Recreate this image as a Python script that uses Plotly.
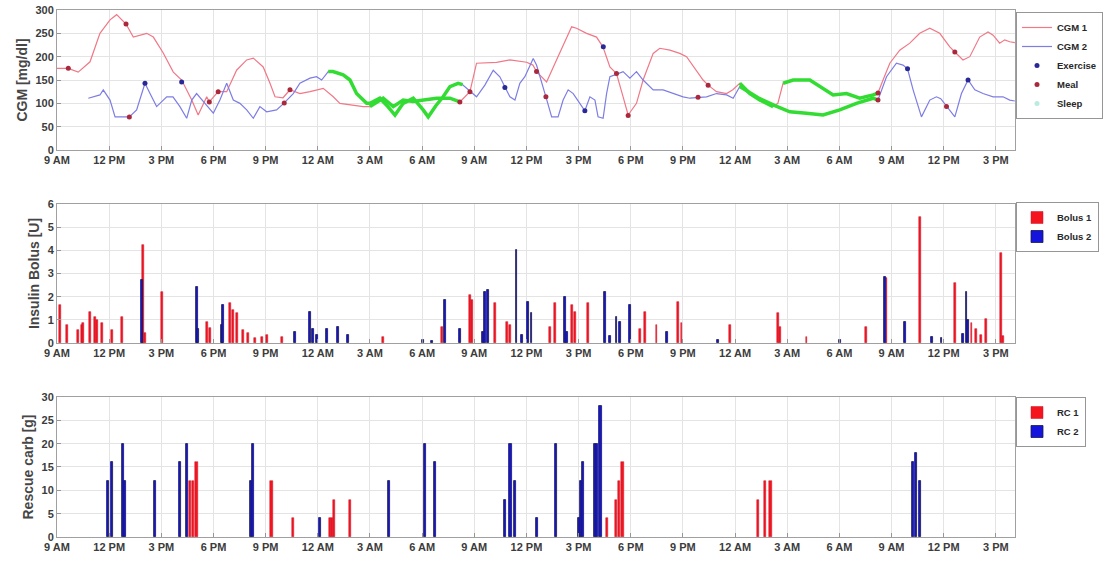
import plotly.graph_objects as go
import numpy as np

# ---------------- data (hours since 9 AM day 1) ----------------
tick_vals = [0, 3, 6, 9, 12, 15, 18, 21, 24, 27, 30, 33, 36, 39, 42, 45, 48, 51, 54]
tick_text = ["9 AM", "12 PM", "3 PM", "6 PM", "9 PM", "12 AM", "3 AM", "6 AM",
             "9 AM", "12 PM", "3 PM", "6 PM", "9 PM", "12 AM", "3 AM", "6 AM",
             "9 AM", "12 PM", "3 PM"]

cgm1_t = [0.00, 0.65, 1.22, 1.90, 2.47, 3.05, 3.43, 3.97, 4.39, 5.16, 5.54, 6.11, 6.69, 7.17,
          7.75, 8.12, 8.61, 8.76, 9.27, 9.76, 10.33, 10.91, 11.29, 11.86, 12.25, 12.54, 13.00,
          13.40, 13.97, 14.55, 15.31, 15.89, 16.27, 17.04, 17.61, 18.00, 18.76, 19.34, 19.91,
          20.47, 21.06, 21.83, 22.60, 23.17, 23.75, 24.13, 25.28, 26.05, 27.01, 27.37, 27.58,
          28.16, 28.73, 29.31, 29.60, 29.88, 30.46, 31.03, 31.40, 31.80, 32.18, 32.56, 32.85,
          33.33, 33.71, 34.29, 34.67, 35.25, 35.82, 36.21, 36.78, 37.16, 37.45, 37.93, 38.51,
          38.87, 39.27, 39.85, 40.42, 41.19, 41.46, 41.76, 42.34, 43.30, 43.87, 44.64, 45.41,
          46.17, 46.94, 47.22, 47.51, 47.90, 48.47, 49.05, 49.62, 50.20, 50.77, 51.35, 51.64,
          52.11, 52.50, 53.07, 53.55, 53.84, 54.22, 54.51, 54.80, 55.09]
cgm1_v = [175, 175, 167, 189, 250, 279, 290, 270, 242, 250, 242, 208, 167, 150,
          107, 75, 114, 103, 125, 125, 171, 193, 197, 178, 143, 114, 112,
          129, 121, 125, 132, 114, 100, 96, 93, 93, 111, 93, 107,
          104, 107, 111, 111, 103, 125, 186, 188, 193, 188, 182, 168,
          146, 193, 242, 264, 261, 250, 242, 221, 178, 164, 114, 75,
          100, 150, 207, 218, 214, 207, 200, 171, 150, 139, 125, 121,
          129, 143, 121, 107, 93, 100, 143, 150, 150, 136, 118, 121,
          111, 118, 122, 150, 186, 214, 229, 250, 261, 250, 221, 210,
          193, 200, 242, 253, 246, 229, 236, 232, 230]

cgm2_t = [1.80, 2.47, 2.66, 3.05, 3.34, 3.91, 4.16, 4.58, 5.06, 5.35, 5.73, 6.31, 6.67, 7.07,
          7.46, 7.75, 8.03, 8.51, 8.99, 9.37, 9.76, 10.14, 10.52, 10.91, 11.29, 11.67, 12.06,
          12.63, 13.07, 13.59, 13.97, 14.55, 14.93, 15.22, 15.60, 15.87, 16.46, 16.85, 17.23,
          17.81, 18.00, 18.57, 19.03, 19.44, 19.91, 20.49, 21.06, 21.35, 21.79, 22.21, 22.60,
          23.07, 23.33, 24.13, 24.61, 25.09, 25.47, 25.76, 26.05, 26.34, 26.62, 26.91, 27.08,
          27.39, 27.58, 27.87, 28.12, 28.45, 28.82, 29.11, 29.40, 29.69, 30.07, 30.36, 30.65,
          30.94, 31.12, 31.41, 31.61, 31.80, 32.09, 32.56, 32.95, 33.33, 33.71, 34.29, 34.86,
          35.44, 36.01, 36.40, 36.87, 37.36, 37.93, 38.51, 38.89, 39.27, 40.42, 41.29, 42.15,
          43.11, 44.06, 45.02, 45.98, 46.94, 47.22, 47.71, 48.28, 48.66, 48.92, 49.24, 49.72,
          50.20, 50.58, 50.83, 51.16, 51.64, 52.02, 52.40, 52.79, 53.26, 53.84, 54.41, 54.80, 55.09]
cgm2_v = [111, 118, 129, 107, 71, 71, 71, 86, 143, 121, 93, 114, 114, 93,
          68, 107, 121, 100, 79, 107, 143, 107, 100, 86, 68, 93, 82,
          86, 101, 121, 143, 154, 157, 150, 168, 168, 161, 150, 121,
          100, 100, 111, 93, 75, 100, 111, 86, 71, 95, 114, 136,
          143, 140, 114, 139, 171, 157, 134, 114, 107, 143, 157, 171,
          196, 182, 143, 114, 71, 71, 107, 129, 121, 100, 84, 114,
          107, 71, 68, 121, 157, 161, 168, 154, 168, 150, 129, 129,
          121, 114, 111, 113, 114, 121, 118, 111, 136, 110, 95, 82,
          79, 75, 86, 100, 111, 107, 157, 186, 182, 174, 129, 71,
          107, 114, 110, 93, 71, 121, 150, 129, 121, 114, 114, 107, 105]

sleep1_windows = [(17.9, 23.2), (39.0, 41.3), (41.7, 47.3)]
sleep2_windows = [(15.5, 23.4), (39.0, 47.3)]

exercise_t = [5.06, 7.17, 25.76, 30.36, 31.42, 48.92, 52.40]
exercise_v = [143, 146, 134, 84, 221, 174, 150]
meal_t = [0.65, 3.97, 4.16, 8.76, 9.27, 13.07, 13.40, 23.17, 23.75, 27.58, 28.12, 32.18,
          32.85, 36.87, 37.45, 47.22, 47.22, 51.16, 51.64]
meal_v = [175, 270, 71, 103, 125, 101, 129, 103, 125, 168, 114, 164, 74, 113, 139, 122, 107, 93, 210]

bolus1_t = [0.17, 0.56, 1.22, 1.42, 1.51, 1.90, 2.19, 2.28, 2.57, 3.15, 3.72, 4.96, 5.06, 6.02,
            8.61, 8.80, 9.95, 10.14, 10.33, 10.71, 11.00, 11.39, 11.79, 12.06, 12.92, 18.76,
            22.12, 23.75, 23.85, 25.19, 25.86, 26.05, 28.35, 28.64, 29.60, 29.79, 30.55, 33.52,
            33.81, 34.48, 35.73, 35.92, 38.70, 41.48, 41.58, 43.11, 46.52, 47.71, 49.62, 51.64,
            52.60, 52.88, 53.17, 53.45, 54.32, 54.42]
bolus1_v = [1.64, 0.78, 0.56, 0.78, 0.85, 1.35, 1.13, 0.99, 0.85, 0.56, 1.13, 4.23, 0.45, 2.21,
            0.92, 0.65, 1.71, 1.42, 1.28, 0.56, 0.42, 0.20, 0.27, 0.35, 0.27, 0.27,
            0.70, 2.07, 1.86, 1.71, 0.92, 0.80, 0.70, 1.71, 1.64, 1.35, 1.71, 0.60,
            1.35, 0.78, 1.78, 0.85, 0.78, 1.28, 0.70, 0.27, 0.70, 2.82, 5.45, 2.58,
            0.85, 0.63, 0.35, 1.06, 3.87, 0.30]
bolus2_t = [4.87, 8.03, 8.11, 9.47, 9.57, 13.69, 14.55, 14.74, 14.93, 15.51, 16.18, 16.75,
            21.06, 21.55, 22.31, 23.17, 24.51, 24.61, 24.80, 26.43, 26.72, 27.10, 27.29, 29.21,
            29.31, 31.51, 31.80, 32.18, 32.37, 32.95, 35.06, 38.03, 45.03, 47.61, 48.76, 50.30,
            50.87, 52.11, 52.31, 52.40]
bolus2_v = [2.72, 2.43, 0.60, 0.78, 1.64, 0.49, 1.35, 0.63, 0.35, 0.63, 0.70, 0.35,
            0.13, 0.10, 1.86, 0.63, 0.50, 2.21, 2.29, 4.01, 0.35, 1.78, 1.28, 2.00,
            0.50, 2.21, 0.30, 1.14, 0.92, 1.64, 0.49, 0.13, 0.13, 2.86, 0.92, 0.27,
            0.20, 0.40, 2.21, 0.99]

rc1_t = [7.65, 7.84, 8.03, 12.34, 13.59, 15.70, 15.80, 15.95, 16.85, 31.65, 32.15, 32.34,
         32.53, 40.33, 40.71, 41.04]
rc1_v = [12, 12, 16, 12, 4, 4, 4, 8, 8, 4, 8, 12, 16, 8, 12, 12]
rc2_t = [2.95, 3.15, 3.78, 3.91, 5.63, 7.07, 7.46, 11.14, 11.29, 15.12, 19.11, 21.16, 21.74,
         25.76, 26.09, 26.34, 27.62, 28.68, 30.03, 30.13, 30.27, 30.94, 31.07, 31.26, 49.24,
         49.39, 49.62]
rc2_v = [12, 16, 20, 12, 12, 16, 20, 12, 20, 4, 12, 20, 16, 8, 20, 12, 4, 20, 4, 12, 16,
         20, 20, 28, 16, 18, 12]

# ---------------- styling ----------------
FONT = "Liberation Sans"
RED_LINE = "rgb(240,120,135)"
BLUE_LINE = "rgb(125,125,228)"
GREEN = "rgb(50,220,50)"

fig = go.Figure()

fig.add_trace(go.Scatter(x=cgm1_t, y=cgm1_v, mode="lines", name="CGM 1",
                         line=dict(color=RED_LINE, width=1.2), xaxis="x", yaxis="y", legend="legend"))
fig.add_trace(go.Scatter(x=cgm2_t, y=cgm2_v, mode="lines", name="CGM 2",
                         line=dict(color=BLUE_LINE, width=1.2), xaxis="x", yaxis="y", legend="legend"))


def sleep_segments(ts, vs, windows):
    ts = np.asarray(ts)
    vs = np.asarray(vs)
    out = []
    for a, b in windows:
        m = (ts >= a) & (ts <= b)
        out.append((ts[m], vs[m]))
    return out


for ts, vs, wins in [(cgm1_t, cgm1_v, sleep1_windows), (cgm2_t, cgm2_v, sleep2_windows)]:
    for sx, sy in sleep_segments(ts, vs, wins):
        fig.add_trace(go.Scatter(x=sx, y=sy, mode="lines", showlegend=False,
                                 line=dict(color=GREEN, width=3.5), xaxis="x", yaxis="y",
                                 legend="legend", hoverinfo="skip"))

fig.add_trace(go.Scatter(x=exercise_t, y=exercise_v, mode="markers", name="Exercise",
                         marker=dict(color="rgb(40,40,150)", size=5), xaxis="x", yaxis="y", legend="legend"))
fig.add_trace(go.Scatter(x=meal_t, y=meal_v, mode="markers", name="Meal",
                         marker=dict(color="rgb(170,40,60)", size=5), xaxis="x", yaxis="y", legend="legend"))
fig.add_trace(go.Scatter(x=[None], y=[None], mode="markers", name="Sleep",
                         marker=dict(color="rgb(185,235,225)", size=5), xaxis="x", yaxis="y", legend="legend"))

fig.add_trace(go.Bar(x=bolus1_t, y=bolus1_v, name="Bolus 1", width=0.11,
                     marker=dict(color="rgb(245,20,30)", line=dict(color="rgb(200,20,40)", width=0.5)),
                     xaxis="x2", yaxis="y2", legend="legend2"))
fig.add_trace(go.Bar(x=bolus2_t, y=bolus2_v, name="Bolus 2", width=0.11,
                     marker=dict(color="rgb(20,20,220)", line=dict(color="rgb(25,25,80)", width=0.8)),
                     xaxis="x2", yaxis="y2", legend="legend2"))

fig.add_trace(go.Bar(x=rc1_t, y=rc1_v, name="RC 1", width=0.13,
                     marker=dict(color="rgb(245,20,30)", line=dict(color="rgb(200,20,40)", width=0.5)),
                     xaxis="x3", yaxis="y3", legend="legend3"))
fig.add_trace(go.Bar(x=rc2_t, y=rc2_v, name="RC 2", width=0.13,
                     marker=dict(color="rgb(20,20,220)", line=dict(color="rgb(25,25,80)", width=0.8)),
                     xaxis="x3", yaxis="y3", legend="legend3"))

tickfont = dict(family=FONT, size=11, color="rgb(60,60,60)", weight="bold")
titlefont = dict(family=FONT, size=14, color="rgb(70,70,70)", weight="bold")

xcommon = dict(range=[0, 55.1], tickmode="array", tickvals=tick_vals, ticktext=tick_text,
               showgrid=True, gridcolor="rgb(228,228,228)", gridwidth=1,
               showline=True, linecolor="rgb(160,160,160)", linewidth=1, mirror=True,
               ticks="inside", ticklen=4, tickcolor="rgb(150,150,150)", zeroline=False,
               tickfont=tickfont, automargin=False)
ycommon = dict(showgrid=True, gridcolor="rgb(228,228,228)", gridwidth=1,
               showline=True, linecolor="rgb(160,160,160)", linewidth=1, mirror=True,
               ticks="inside", ticklen=4, tickcolor="rgb(150,150,150)", zeroline=False,
               tickfont=tickfont, automargin=False)

legcommon = dict(xref="container", x=1016 / 1109, xanchor="left", yanchor="top", bgcolor="white",
                 bordercolor="rgb(150,150,150)", borderwidth=1,
                 font=dict(family=FONT, size=9.5, color="rgb(40,40,40)", weight="bold"),
                 tracegroupgap=0, itemwidth=30)

fig.update_layout(
    width=1109, height=563,
    margin=dict(l=57, r=94, t=10, b=26, autoexpand=False),
    paper_bgcolor="white", plot_bgcolor="white",
    barmode="overlay",
    bargap=0,
    xaxis=dict(domain=[0, 1], anchor="y", **xcommon),
    xaxis2=dict(domain=[0, 1], anchor="y2", **xcommon),
    xaxis3=dict(domain=[0, 1], anchor="y3", **xcommon),
    yaxis=dict(domain=[0.7343, 1.0], anchor="x", range=[0, 300], dtick=50,
               title=dict(text="CGM [mg/dl]", font=titlefont, standoff=4), **ycommon),
    yaxis2=dict(domain=[0.368, 0.632], anchor="x2", range=[0, 6], dtick=1,
                title=dict(text="Insulin Bolus [U]", font=titlefont, standoff=4), **ycommon),
    yaxis3=dict(domain=[0.0, 0.2657], anchor="x3", range=[0, 30], dtick=5,
                title=dict(text="Rescue carb [g]", font=titlefont, standoff=4), **ycommon),
    legend=dict(yref="container", y=1 - 12 / 563, **legcommon),
    legend2=dict(yref="container", y=1 - 202 / 563, **legcommon),
    legend3=dict(yref="container", y=1 - 397 / 563, **legcommon),
    showlegend=True,
)

fig.write_html("out.html", config={"displayModeBar": False},
               post_script="document.body.style.margin='0';document.body.style.padding='0';")
